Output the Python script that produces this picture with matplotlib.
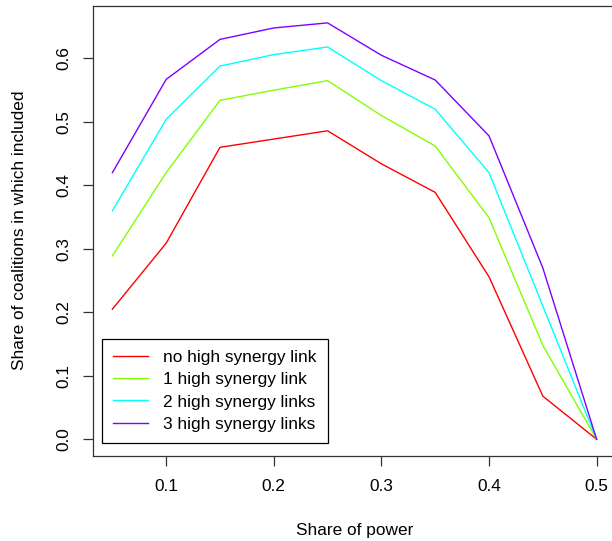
import matplotlib
matplotlib.use("Agg")
import matplotlib.pyplot as plt

plt.rcParams['font.family'] = ['Liberation Sans', 'DejaVu Sans']

# share of power (x) and share of coalitions for each synergy level
power = [0.05, 0.10, 0.15, 0.20, 0.25, 0.30, 0.35, 0.40, 0.45, 0.50]
no_link = [0.205, 0.309, 0.460, 0.473, 0.486, 0.434, 0.389, 0.256, 0.068, 0.0]
one_link = [0.289, 0.420, 0.534, 0.550, 0.565, 0.510, 0.462, 0.349, 0.148, 0.0]
two_links = [0.360, 0.504, 0.588, 0.606, 0.618, 0.565, 0.520, 0.420, 0.210, 0.0]
three_links = [0.420, 0.567, 0.630, 0.648, 0.656, 0.605, 0.566, 0.478, 0.270, 0.0]

labels = ["no high synergy link", "1 high synergy link",
          "2 high synergy links", "3 high synergy links"]
colors = ["#FF0000", "#80FF00", "#00FFFF", "#8000FF"]
xticks = [0.1, 0.2, 0.3, 0.4, 0.5]
yticks = [0.0, 0.1, 0.2, 0.3, 0.4, 0.5, 0.6]

FS = 12.4
W, H = 612, 541
fig = plt.figure(figsize=(W / 100, H / 100), dpi=100)
ax = fig.add_axes([93 / W, (H - 456) / H, (616 - 93) / W, (456 - 6) / H])

for ys, lab, c in zip([no_link, one_link, two_links, three_links], labels, colors):
    ax.plot(power, ys, color=c, lw=1.0, label=lab)

ax.set_xlim(0.032, 0.518)
ax.set_ylim(-0.0263, 0.6826)
ax.set_xticks(xticks)
ax.set_xticklabels([f"{v:g}" for v in xticks])
ax.set_yticks(yticks)
ax.set_yticklabels([f"{v:.1f}" for v in yticks], rotation=90, va='center')
ax.tick_params(labelsize=FS, length=7.5, width=0.9, color='#333333', pad=9)
ax.tick_params(axis='y', pad=8)
for s in ax.spines.values():
    s.set_linewidth(0.9)
    s.set_color('#333333')

fig.text(355 / W, 1 - 530 / H, "Share of power", ha='center', va='center', fontsize=FS)
fig.text(20 / W, 1 - 230 / H, "Share of coalitions in which included", ha='center',
         va='center', rotation=90, fontsize=FS)

leg = ax.legend(loc='lower left', bbox_to_anchor=(102 / W, (H - 443) / H),
                bbox_transform=fig.transFigure, fontsize=FS, frameon=True,
                fancybox=False, edgecolor='black', framealpha=1,
                handlelength=2.0, handletextpad=0.9, labelspacing=0.42,
                borderpad=0.65, borderaxespad=0)
leg.get_frame().set_linewidth(0.9)

fig.savefig("out.png", dpi=100)
